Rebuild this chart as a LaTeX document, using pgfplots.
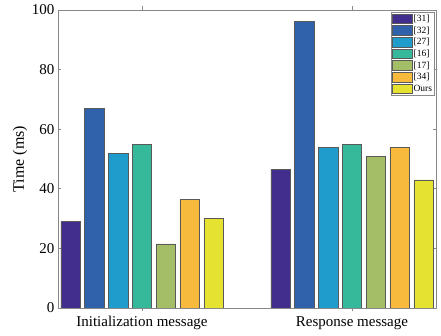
\documentclass[border=0pt]{standalone}
\usepackage{pgfplots}
\pgfplotsset{compat=1.18}
\usepackage{fontspec}
\setmainfont{Liberation Serif}
\definecolor{cA}{HTML}{422E8C}
\definecolor{cB}{HTML}{3062AC}
\definecolor{cC}{HTML}{209CCC}
\definecolor{cD}{HTML}{36B89A}
\definecolor{cE}{HTML}{A4BE68}
\definecolor{cF}{HTML}{F8BA3C}
\definecolor{cG}{HTML}{E6E232}
\definecolor{axgray}{HTML}{888888}
\newcommand{\rf}[1]{\lbrack#1\rbrack}
\begin{document}
\begin{tikzpicture}
\begin{axis}[
  scale only axis,
  width=378pt, height=298pt,
  xmin=0.6, xmax=2.4, ymin=0, ymax=100,
  xtick={1,2},
  xticklabels={Initialization message, Response message},
  ytick={0,20,40,60,80,100},
  ylabel={Time (ms)},
  ylabel style={at={(axis description cs:-0.1005,0.5)}, anchor=center, font=\fontsize{16}{18}\selectfont},
  ticklabel style={font=\fontsize{15}{17}\selectfont},
  xticklabel style={yshift=-1.5pt},
  /pgf/number format/assume math mode=true,
  axis line style={axgray, line width=0.6pt},
  tick style={axgray, line width=0.6pt},
  major tick length=3.5pt,
  tick align=inside,
  xtick pos=both, ytick pos=both,
  ybar, bar width=0.092,
  every axis plot/.append style={draw=black!65, line width=0.5pt},
  legend cell align=left,
  legend style={at={(rel axis cs:0.995,0.992)}, anchor=north east,
    draw=axgray, line width=0.5pt, font=\fontsize{9.5}{10}\selectfont,
    inner sep=1pt, row sep=1.6pt,
    nodes={inner sep=0.8pt}},
  legend image code/.code={\draw[#1] (0pt,-4.5pt) rectangle (20pt,5pt);},
]
\addplot[fill=cA, bar shift=-0.3402] coordinates {(1,29) (2,46.5)};
\addlegendentry{\rf{31}}
\addplot[fill=cB, bar shift=-0.2268] coordinates {(1,67) (2,96.1)};
\addlegendentry{\rf{32}}
\addplot[fill=cC, bar shift=-0.1134] coordinates {(1,52) (2,54)};
\addlegendentry{\rf{27}}
\addplot[fill=cD, bar shift=0] coordinates {(1,55) (2,55)};
\addlegendentry{\rf{16}}
\addplot[fill=cE, bar shift=0.1134] coordinates {(1,21.5) (2,51)};
\addlegendentry{\rf{17}}
\addplot[fill=cF, bar shift=0.2268] coordinates {(1,36.5) (2,54)};
\addlegendentry{\rf{34}}
\addplot[fill=cG, bar shift=0.3402] coordinates {(1,30) (2,43)};
\addlegendentry{Ours}
\end{axis}
\pgfresetboundingbox
\path[use as bounding box] ([shift={(-58pt,-28pt)}]current axis.south west) rectangle ([shift={(5pt,10pt)}]current axis.north east);
\end{tikzpicture}
\end{document}
